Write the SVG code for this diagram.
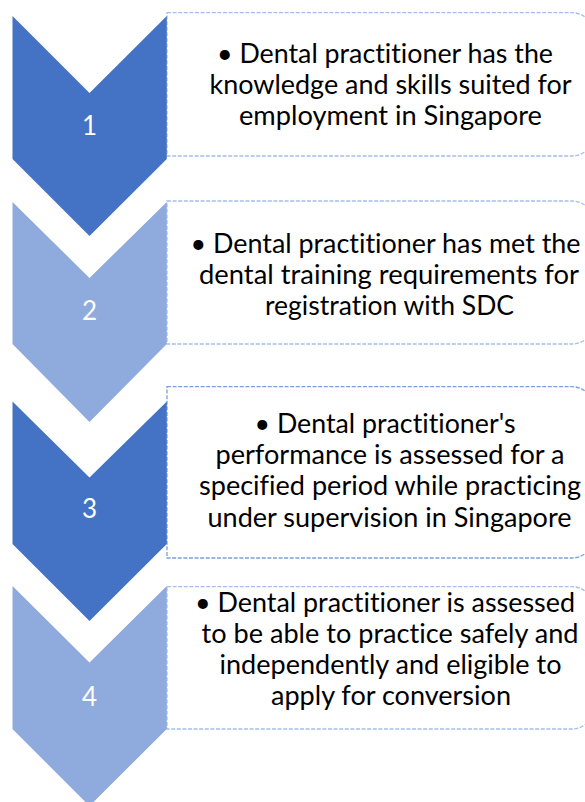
<svg xmlns="http://www.w3.org/2000/svg" width="585" height="802" viewBox="0 0 585 802">
  <style>
    .dark { fill: #4472C4; }
    .light { fill: #8FAADC; }
    .num { font-family: Lato, "Open Sans", "Liberation Sans", sans-serif; font-size: 26px; fill: #FFFFFF; text-anchor: middle; }
    .box { fill: #FFFFFF; stroke-width: 1.3; stroke-dasharray: 4 1.6; }
    .box-light { stroke: #A6BEE8; }
    .box-dark { stroke: #7C9EDB; }
    .txt { font-family: Lato, "Open Sans", "Liberation Sans", sans-serif; font-size: 27px; fill: #000000; text-anchor: middle; font-variant-ligatures: none; font-feature-settings: "liga" 0, "clig" 0; }
  </style>
  <rect width="585" height="802" fill="#FFFFFF"/>

  <!-- connectors: none drawn in this chevron list -->
  <g id="connectors"></g>

  <!-- Step 1 -->
  <g id="step1">
    <path class="box box-light" d="M167,12.7 H572 A22,22 0 0 1 594,34.7 V134 A22,22 0 0 1 572,156 H167 Z"/>
    <path class="dark" d="M12.5,16 L89.5,93 L166.8,16 V159 L89.5,236 L12.5,159 Z"/>
    <text class="num" x="89.5" y="135">1</text>
    <text class="txt" x="385" y="63.3" textLength="336" lengthAdjust="spacingAndGlyphs">• Dental practitioner has the</text>
    <text class="txt" x="390.5" y="94.3" textLength="362" lengthAdjust="spacingAndGlyphs">knowledge and skills suited for</text>
    <text class="txt" x="390.5" y="125.3" textLength="303" lengthAdjust="spacingAndGlyphs">employment in Singapore</text>
  </g>

  <!-- Step 2 -->
  <g id="step2">
    <path class="box box-light" d="M167,201 H572 A22,22 0 0 1 594,223 V322 A22,22 0 0 1 572,344 H167 Z"/>
    <path class="light" d="M12.5,202 L89.5,278 L166.8,202 V344 L89.5,422 L12.5,344 Z"/>
    <text class="num" x="89.5" y="320">2</text>
    <text class="txt" x="385.5" y="253.3" textLength="390" lengthAdjust="spacingAndGlyphs">• Dental practitioner has met the</text>
    <text class="txt" x="389" y="284.3" textLength="380" lengthAdjust="spacingAndGlyphs">dental training requirements for</text>
    <text class="txt" x="389.5" y="315.3" textLength="249" lengthAdjust="spacingAndGlyphs">registration with SDC</text>
  </g>

  <!-- Step 3 -->
  <g id="step3">
    <path class="box box-dark" d="M167,386.7 H572 A22,22 0 0 1 594,408.7 V536 A22,22 0 0 1 572,558 H167 Z"/>
    <path class="dark" d="M12.5,401.5 L89.5,477.5 L166.8,401.5 V544 L89.5,621 L12.5,544 Z"/>
    <text class="num" x="89.5" y="518.3">3</text>
    <text class="txt" x="385" y="432.7" textLength="261" lengthAdjust="spacingAndGlyphs">• Dental practitioner's</text>
    <text class="txt" x="390" y="463.8" textLength="349" lengthAdjust="spacingAndGlyphs">performance is assessed for a</text>
    <text class="txt" x="390" y="495" textLength="382" lengthAdjust="spacingAndGlyphs">specified period while practicing</text>
    <text class="txt" x="389.5" y="526.5" textLength="364" lengthAdjust="spacingAndGlyphs">under supervision in Singapore</text>
  </g>

  <!-- Step 4 -->
  <g id="step4">
    <path class="box box-light" d="M167,586.7 H572 A22,22 0 0 1 594,608.7 V707 A22,22 0 0 1 572,729 H167 Z"/>
    <path class="light" d="M12.5,586 L89.5,662.5 L166.8,586 V729 L89.5,806 L12.5,729 Z"/>
    <text class="num" x="89.5" y="705.7">4</text>
    <text class="txt" x="385" y="611.7" textLength="380" lengthAdjust="spacingAndGlyphs">• Dental practitioner is assessed</text>
    <text class="txt" x="390" y="642.7" textLength="377" lengthAdjust="spacingAndGlyphs">to be able to practice safely and</text>
    <text class="txt" x="390.5" y="673.7" textLength="342" lengthAdjust="spacingAndGlyphs">independently and eligible to</text>
    <text class="txt" x="391" y="704.7" textLength="240" lengthAdjust="spacingAndGlyphs">apply for conversion</text>
  </g>
</svg>
